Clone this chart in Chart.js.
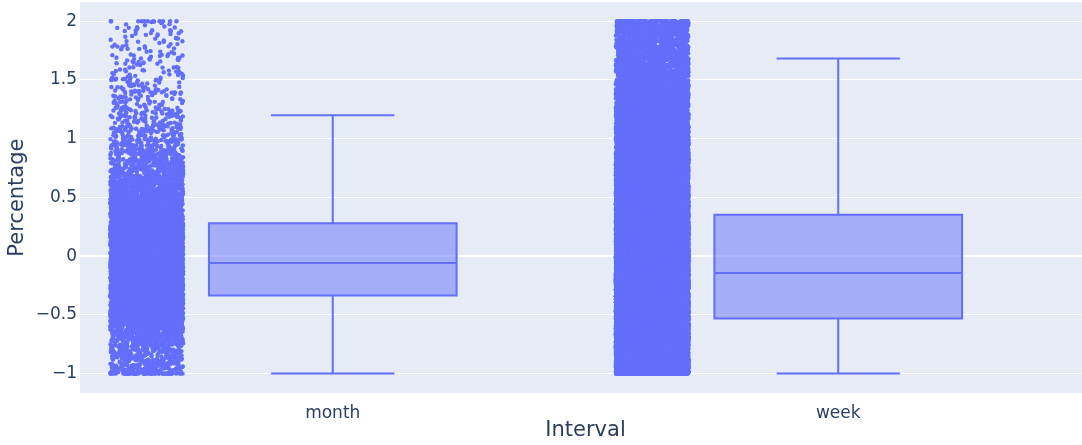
<!DOCTYPE html>
<html>
<head>
<meta charset="utf-8">
<script src="https://cdn.jsdelivr.net/npm/chart.js@4.4.1/dist/chart.umd.min.js"></script>
<style>
  html, body { margin: 0; padding: 0; background: #fff; overflow: hidden; }
</style>
</head>
<body>
<canvas id="intervalChart" width="1100" height="445"></canvas>
<script>
// Percentage change per sampling interval: box stats plus every observation
const categories = ['month', 'week'];

const q1 = [-0.336, -0.531];
const medians = [-0.059, -0.144];
const q3 = [0.28, 0.352];
const lowerFences = [-1.0, -1.0];
const upperFences = [1.2, 1.683];

// observations counted in 0.1-wide bands, keyed by the band's lower edge
const bandStarts = [-1.0, -0.9, -0.8, -0.7, -0.6, -0.5, -0.4, -0.3, -0.2, -0.1,
                     0.0,  0.1,  0.2,  0.3,  0.4,  0.5,  0.6,  0.7,  0.8,  0.9,
                     1.0,  1.1,  1.2,  1.3,  1.4,  1.5,  1.6,  1.7,  1.8,  1.9];
const monthCounts = [160, 160, 180, 260, 420, 600, 720, 780, 780, 760,
                     700, 640, 560, 480, 400, 320, 250, 190, 145, 110,
                     85, 68, 55, 46, 39, 33, 28, 25, 22, 21];
const weekCounts = [2150, 2200, 2250, 2300, 2300, 2400, 2500, 2550, 2550, 2500,
                    2400, 2200, 1900, 1500, 1380, 1250, 1120, 1000, 890, 790,
                    700, 620, 550, 490, 440, 400, 370, 340, 320, 300];
// values sitting exactly on the clip limits (-1 and 2)
const countsAtMin = [60, 300];
const countsAtMax = [10, 60];

const yTicks = [-1, -0.5, 0, 0.5, 1, 1.5, 2];

const blue = '#636efa';
const textColor = '#2a3f5f';
const boxHalf = 0.245;
const capHalf = 0.122;
const stripOffset = -0.368;
const stripHalf = 0.072;

// integer hash -> [0, 1), used to scatter points inside their band and strip
function spread(n) {
  let t = Math.imul(n + 1, 0x6D2B79F5);
  t = Math.imul(t ^ (t >>> 15), t | 1);
  t ^= t + Math.imul(t ^ (t >>> 7), t | 61);
  return ((t ^ (t >>> 14)) >>> 0) / 4294967296;
}

function buildPoints(ci, counts) {
  const pts = [];
  let idx = ci * 1000003;
  const add = (y) => {
    const fx = spread(2 * idx);
    pts.push({ x: ci + stripOffset + (2 * fx - 1) * stripHalf, y: y });
    idx++;
  };
  for (let i = 0; i < countsAtMin[ci]; i++) add(-1);
  bandStarts.forEach((lo, b) => {
    for (let k = 0; k < counts[b]; k++) add(lo + 0.1 * spread(2 * idx + 1));
  });
  for (let i = 0; i < countsAtMax[ci]; i++) add(2);
  return pts;
}

const plotBackground = {
  id: 'plotBackground',
  beforeDraw(chart) {
    const { ctx, chartArea: a } = chart;
    ctx.save();
    ctx.fillStyle = '#e5ecf6';
    ctx.fillRect(a.left, a.top, a.right - a.left, a.bottom - a.top);
    ctx.restore();
  }
};

const boxes = {
  id: 'boxes',
  afterDatasetsDraw(chart) {
    const { ctx, scales: { x, y } } = chart;
    ctx.save();
    ctx.lineWidth = 2;
    ctx.strokeStyle = blue;
    categories.forEach((c, i) => {
      const xl = x.getPixelForValue(i - boxHalf);
      const xr = x.getPixelForValue(i + boxHalf);
      const xc = x.getPixelForValue(i);
      const cl = x.getPixelForValue(i - capHalf);
      const cr = x.getPixelForValue(i + capHalf);
      const yq1 = y.getPixelForValue(q1[i]);
      const yq3 = y.getPixelForValue(q3[i]);
      const ym = y.getPixelForValue(medians[i]);
      const ylo = y.getPixelForValue(lowerFences[i]);
      const yhi = y.getPixelForValue(upperFences[i]);

      ctx.fillStyle = 'rgba(99,110,250,0.5)';
      ctx.fillRect(xl, yq3, xr - xl, yq1 - yq3);

      ctx.beginPath();
      ctx.rect(xl, yq3, xr - xl, yq1 - yq3);
      ctx.moveTo(xl, ym); ctx.lineTo(xr, ym);
      ctx.moveTo(xc, yq3); ctx.lineTo(xc, yhi);
      ctx.moveTo(xc, yq1); ctx.lineTo(xc, ylo);
      ctx.moveTo(cl, yhi); ctx.lineTo(cr, yhi);
      ctx.moveTo(cl, ylo); ctx.lineTo(cr, ylo);
      ctx.stroke();
    });
    ctx.restore();
  }
};

const datasets = categories.map((c, i) => ({
  label: c,
  data: buildPoints(i, i === 0 ? monthCounts : weekCounts),
  pointRadius: 2.2,
  pointHoverRadius: 0,
  pointBorderWidth: 0,
  pointBackgroundColor: blue,
  showLine: false
}));

new Chart(document.getElementById('intervalChart'), {
  type: 'scatter',
  data: { datasets: datasets },
  plugins: [plotBackground, boxes],
  options: {
    responsive: false,
    animation: false,
    devicePixelRatio: 1,
    events: [],
    layout: { padding: { left: 0, right: 9, top: 1, bottom: 0 } },
    plugins: {
      legend: { display: false },
      tooltip: { enabled: false }
    },
    scales: {
      x: {
        type: 'linear',
        min: -0.5,
        max: 1.5,
        afterBuildTicks: (scale) => { scale.ticks = categories.map((c, i) => ({ value: i })); },
        afterFit: (scale) => {
          scale.height = 52;
          scale.paddingLeft = 0;
          scale.paddingRight = 0;
        },
        grid: { display: false },
        border: { display: false },
        ticks: {
          callback: (v) => categories[v],
          color: textColor,
          font: { family: 'DejaVu Sans', size: 17 },
          padding: 2,
          maxRotation: 0
        },
        title: {
          display: true,
          text: 'Interval',
          color: textColor,
          font: { family: 'DejaVu Sans', size: 21 },
          padding: { top: 0, bottom: 2 }
        }
      },
      y: {
        min: -1.165,
        max: 2.162,
        afterBuildTicks: (scale) => { scale.ticks = yTicks.map(v => ({ value: v })); },
        afterFit: (scale) => {
          scale.width = 80;
          scale.paddingTop = 0;
          scale.paddingBottom = 0;
        },
        grid: {
          color: '#ffffff',
          lineWidth: (ctx) => (ctx.tick && ctx.tick.value === 0 ? 2 : 1),
          drawTicks: false
        },
        border: { display: false },
        ticks: {
          callback: (v) => (v < 0 ? '\u2212' + Math.abs(v) : String(v)),
          color: textColor,
          font: { family: 'DejaVu Sans', size: 17 },
          padding: 3
        },
        title: {
          display: true,
          text: 'Percentage',
          color: textColor,
          font: { family: 'DejaVu Sans', size: 21 },
          padding: { top: 5, bottom: 0 }
        }
      }
    }
  }
});
</script>
</body>
</html>
